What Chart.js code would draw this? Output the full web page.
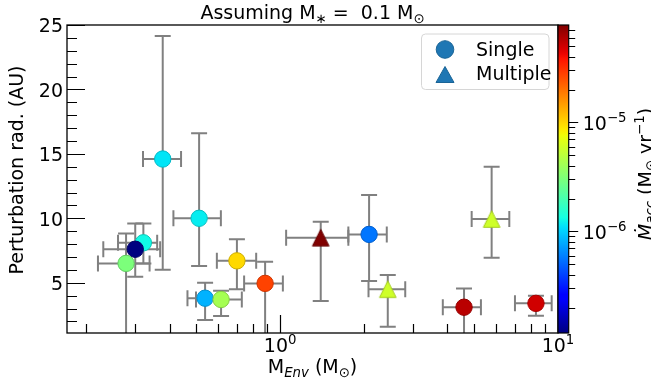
<!DOCTYPE html>
<html>
<head>
<meta charset="utf-8">
<script src="https://cdn.jsdelivr.net/npm/chart.js@4/dist/chart.umd.min.js"></script>
<style>
body { margin: 0; background: #fff; }
</style>
</head>
<body>
<canvas id="myChart" width="651" height="381"></canvas>
<script>
"use strict";

// envelope mass (Msun) and its error range
let mEnv   = [0.378, 0.511, 0.322, 0.301, 0.279, 0.537, 0.613, 0.699, 0.883, 1.40, 2.09, 2.44, 5.77, 4.59, 8.33];
let mEnvLo = [0.321, 0.413, 0.261, 0.231, 0.221, 0.464, 0.498, 0.592, 0.742, 1.051, 1.76, 2.08, 4.89, 3.85, 7.00];
let mEnvHi = [0.440, 0.612, 0.361, 0.370, 0.339, 0.610, 0.728, 0.820, 1.023, 1.76, 2.42, 2.82, 6.68, 5.28, 9.49];

// perturbation radius (AU) and its error range
let rad   = [14.6, 10.0, 8.1, 7.6, 6.5, 3.8, 3.7, 6.7, 4.95, 8.5, 8.75, 4.5, 9.95, 3.1, 3.4];
let radLo = [6.0, 6.3, 6.5, 5.47, 0.5, 2.1, 2.42, 4.49, 0.5, 3.58, 5.13, 1.59, 6.94, 0.5, 2.44];
let radHi = [24.15, 16.6, 9.6, 9.6, 8.83, 5.0, 4.38, 8.37, 6.63, 9.73, 11.8, 5.6, 14.0, 4.56, 4.0];

// accretion rate (Msun/yr), sets the marker colour
let mAcc = [1.14e-6, 1.2e-6, 1.3e-6, 1.17e-7, 3.03e-6, 8.2e-7, 4.2e-6, 9.8e-6, 2.77e-5, 7.83e-5, 5.6e-7, 5.8e-6, 5.8e-6, 5.66e-5, 4.97e-5];

// multiple systems get a triangle
let multiple = [false, false, false, false, false, false, false, false, false, true, false, true, true, false, false];

let xMajor = [1, 10];
let xMajorLabels = [["10", "0"], ["10", "1"]];
let yMajor = [5, 10, 15, 20, 25];
let cbMajor = [1e-6, 1e-5];
let cbMajorLabels = [["10", "\u22126"], ["10", "\u22125"]];
let legendLabels = ["Single", "Multiple"];

let X_MIN = 0.171, X_MAX = 10;
let Y_MIN = 1.1, Y_MAX = 25;
let CB_MIN = 1.17e-7, CB_MAX = 7.83e-5;

let FONT = '"DejaVu Sans"';
let FS = 19;
let CAP = 8;

function lerpTable(t, tab) {
    for (let i = 1; i < tab.length; i++) {
        if (t <= tab[i][0]) {
            let a = tab[i - 1], b = tab[i];
            return a[1] + (b[1] - a[1]) * (t - a[0]) / (b[0] - a[0]);
        }
    }
    return tab[tab.length - 1][1];
}

function jet(t) {
    t = Math.max(0, Math.min(1, t));
    let r = lerpTable(t, [[0, 0], [0.35, 0], [0.66, 1], [0.89, 1], [1, 0.5]]);
    let g = lerpTable(t, [[0, 0], [0.125, 0], [0.375, 1], [0.64, 1], [0.91, 0], [1, 0]]);
    let b = lerpTable(t, [[0, 0.5], [0.11, 1], [0.34, 1], [0.65, 0], [1, 0]]);
    return [r * 255, g * 255, b * 255];
}

function rgb(c, k) {
    k = k || 1;
    return "rgb(" + Math.round(c[0] * k) + "," + Math.round(c[1] * k) + "," + Math.round(c[2] * k) + ")";
}

function accColour(v) {
    let t = (Math.log10(v) - Math.log10(CB_MIN)) / (Math.log10(CB_MAX) - Math.log10(CB_MIN));
    return jet(t);
}

function triangleImage(fill, edge, s) {
    let c = document.createElement("canvas");
    let n = Math.ceil(2 * s + 3);
    c.width = n; c.height = n;
    let g = c.getContext("2d");
    let m = n / 2;
    g.beginPath();
    g.moveTo(m, m - s);
    g.lineTo(m - s, m + s);
    g.lineTo(m + s, m + s);
    g.closePath();
    g.fillStyle = fill;
    g.fill();
    g.strokeStyle = edge;
    g.lineWidth = 1;
    g.stroke();
    return c;
}

// text in pieces: [text, kind], kind is "", "sub", "sup", "it", "itsub"
function partFont(kind, size) {
    let small = kind === "sub" || kind === "sup" || kind === "itsub";
    let italic = kind === "it" || kind === "itsub";
    return (italic ? "italic " : "") + (small ? size * 0.7 : size) + "px " + FONT;
}

function drawParts(ctx, parts, x, y, size, align) {
    let w = 0;
    for (let p of parts) { ctx.font = partFont(p[1] || "", size); w += ctx.measureText(p[0]).width; }
    let cx = align === "center" ? x - w / 2 : (align === "right" ? x - w : x);
    ctx.textAlign = "left";
    ctx.textBaseline = "alphabetic";
    for (let p of parts) {
        let kind = p[1] || "";
        ctx.font = partFont(kind, size);
        let dy = 0;
        if (kind === "sub" || kind === "itsub") dy = size * 0.2;
        if (kind === "sup") dy = -size * 0.42;
        ctx.fillText(p[0], cx, y + dy);
        cx += ctx.measureText(p[0]).width;
    }
}

function drawErrorBars(chart) {
    let ctx = chart.ctx, a = chart.chartArea;
    let xs = chart.scales.x, ys = chart.scales.y;
    ctx.save();
    ctx.beginPath();
    ctx.rect(a.left, a.top, a.right - a.left, a.bottom - a.top);
    ctx.clip();
    ctx.strokeStyle = "#808080";
    ctx.lineWidth = 2;
    for (let i = 0; i < mEnv.length; i++) {
        let px = xs.getPixelForValue(mEnv[i]), py = ys.getPixelForValue(rad[i]);
        let x0 = xs.getPixelForValue(mEnvLo[i]), x1 = xs.getPixelForValue(mEnvHi[i]);
        let y0 = ys.getPixelForValue(radLo[i]), y1 = ys.getPixelForValue(radHi[i]);
        ctx.beginPath();
        ctx.moveTo(x0, py); ctx.lineTo(x1, py);
        ctx.moveTo(px, y0); ctx.lineTo(px, y1);
        ctx.moveTo(x0, py - CAP); ctx.lineTo(x0, py + CAP);
        ctx.moveTo(x1, py - CAP); ctx.lineTo(x1, py + CAP);
        ctx.moveTo(px - CAP, y0); ctx.lineTo(px + CAP, y0);
        ctx.moveTo(px - CAP, y1); ctx.lineTo(px + CAP, y1);
        ctx.stroke();
    }
    ctx.restore();
}

function drawAxes(chart) {
    let ctx = chart.ctx, a = chart.chartArea;
    let xs = chart.scales.x, ys = chart.scales.y;
    ctx.save();
    ctx.strokeStyle = "#000";
    ctx.fillStyle = "#000";

    // inward ticks on x
    ctx.lineWidth = 1.2;
    ctx.beginPath();
    for (let d = 0.1; d < X_MAX; d *= 10) {
        for (let k = 1; k < 10; k++) {
            let v = k * d;
            if (v < X_MIN || v > X_MAX) continue;
            let p = Math.round(xs.getPixelForValue(v)) + 0.5;
            let len = k === 1 ? 18 : 9;
            ctx.moveTo(p, a.bottom); ctx.lineTo(p, a.bottom - len);
        }
    }
    // inward ticks on y
    for (let v = Math.ceil(Y_MIN); v <= Y_MAX; v++) {
        let p = Math.round(ys.getPixelForValue(v)) + 0.5;
        let len = v % 5 === 0 ? 18 : 10;
        ctx.moveTo(a.left, p); ctx.lineTo(a.left + len, p);
    }
    ctx.stroke();

    // spines
    ctx.lineWidth = 1.3;
    ctx.strokeRect(a.left, a.top, a.right - a.left, a.bottom - a.top);

    for (let i = 0; i < xMajor.length; i++) {
        let p = xs.getPixelForValue(xMajor[i]);
        drawParts(ctx, [[xMajorLabels[i][0]], [xMajorLabels[i][1], "sup"]], p, a.bottom + 18.5, FS, "center");
    }
    for (let v of yMajor) {
        let p = ys.getPixelForValue(v);
        drawParts(ctx, [[String(v)]], a.left - 4, p + 7.3, FS, "right");
    }

    // axis titles
    drawParts(ctx, [["M"], ["Env", "itsub"], [" (M"], ["\u2299", "sub"], [")"]], (a.left + a.right) / 2, 373, FS, "center");
    ctx.save();
    ctx.translate(23, 170);
    ctx.rotate(-Math.PI / 2);
    drawParts(ctx, [["Perturbation rad. (AU)"]], 0, 0, FS, "center");
    ctx.restore();

    drawParts(ctx, [["Assuming M"], ["\u2217", "sub"], [" =  0.1 M"], ["\u2299", "sub"]], (a.left + a.right) / 2, 19, FS, "center");
    ctx.restore();
}

function drawColorbar(chart) {
    let ctx = chart.ctx, a = chart.chartArea;
    let cb = chart.scales.cb;
    let top = cb.getPixelForValue(CB_MAX), bottom = cb.getPixelForValue(CB_MIN);
    let left = a.right, right = a.right + 10.7;
    ctx.save();
    let grad = ctx.createLinearGradient(0, bottom, 0, top);
    for (let i = 0; i <= 64; i++) grad.addColorStop(i / 64, rgb(jet(i / 64)));
    ctx.fillStyle = grad;
    ctx.fillRect(left, top, right - left, bottom - top);
    ctx.strokeStyle = "#000";
    ctx.lineWidth = 1.2;
    ctx.strokeRect(left, top, right - left, bottom - top);

    ctx.beginPath();
    for (let d = 1e-7; d < CB_MAX; d *= 10) {
        for (let k = 1; k < 10; k++) {
            let v = k * d;
            if (v < CB_MIN || v > CB_MAX) continue;
            let p = Math.round(cb.getPixelForValue(v)) + 0.5;
            ctx.moveTo(right, p); ctx.lineTo(right + (k === 1 ? 9.5 : 6.5), p);
        }
    }
    ctx.stroke();

    ctx.fillStyle = "#000";
    for (let i = 0; i < cbMajor.length; i++) {
        let p = cb.getPixelForValue(cbMajor[i]);
        drawParts(ctx, [[cbMajorLabels[i][0]], [cbMajorLabels[i][1], "sup"]], right + 14, p + 7.3, FS, "left");
    }
    // label runs against the right edge of the figure
    ctx.translate(651.5, (top + bottom) / 2 - 5);
    ctx.rotate(-Math.PI / 2);
    drawParts(ctx, [["\u1E40", "it"], ["acc", "itsub"], [" (M"], ["\u2299", "sub"], [" yr"], ["\u22121", "sup"], [")"]], 0, 0, FS, "center");
    ctx.restore();
}

function drawLegend(chart) {
    let ctx = chart.ctx, a = chart.chartArea;
    let x0 = a.right - 136.5, y0 = a.top + 9, w = 127.5, h = 55.5, r = 4;
    ctx.save();
    ctx.beginPath();
    ctx.moveTo(x0 + r, y0);
    ctx.arcTo(x0 + w, y0, x0 + w, y0 + h, r);
    ctx.arcTo(x0 + w, y0 + h, x0, y0 + h, r);
    ctx.arcTo(x0, y0 + h, x0, y0, r);
    ctx.arcTo(x0, y0, x0 + w, y0, r);
    ctx.closePath();
    ctx.fillStyle = "rgba(255,255,255,0.8)";
    ctx.fill();
    ctx.strokeStyle = "#d6d6d6";
    ctx.lineWidth = 1;
    ctx.stroke();

    let mx = x0 + 23.5;
    ctx.fillStyle = "#1f77b4";
    ctx.strokeStyle = "#1a6496";
    ctx.beginPath();
    ctx.arc(mx, y0 + 15.5, 8.8, 0, Math.PI * 2);
    ctx.fill(); ctx.stroke();
    ctx.beginPath();
    ctx.moveTo(mx, y0 + 32.5);
    ctx.lineTo(mx - 9, y0 + 48.5);
    ctx.lineTo(mx + 9, y0 + 48.5);
    ctx.closePath();
    ctx.fill(); ctx.stroke();

    ctx.fillStyle = "#000";
    drawParts(ctx, [[legendLabels[0]]], x0 + 54.5, y0 + 21.5, FS, "left");
    drawParts(ctx, [[legendLabels[1]]], x0 + 54.5, y0 + 45.5, FS, "left");
    ctx.restore();
}

let fills = [], edges = [], styles = [];
for (let i = 0; i < mAcc.length; i++) {
    let c = accColour(mAcc[i]);
    fills.push(rgb(c));
    edges.push(rgb(c, 0.8));
    styles.push(multiple[i] ? triangleImage(rgb(c), rgb(c, 0.8), 8.3) : "circle");
}

let decorPlugin = {
    id: "decor",
    beforeDatasetsDraw: function (chart) { drawErrorBars(chart); },
    afterDraw: function (chart) {
        drawAxes(chart);
        drawColorbar(chart);
        drawLegend(chart);
    }
};

let newChart = new Chart(document.getElementById("myChart"), {
    type: "scatter",
    data: {
        datasets: [{
            data: mEnv.map(function (x, i) { return { x: x, y: rad[i] }; }),
            pointStyle: styles,
            pointRadius: 8.2,
            pointBackgroundColor: fills,
            pointBorderColor: edges,
            pointBorderWidth: 1,
            clip: false
        }]
    },
    options: {
        responsive: false,
        animation: false,
        events: [],
        layout: { padding: { left: 67, right: 93, top: 25, bottom: 48 } },
        plugins: { legend: { display: false }, tooltip: { enabled: false }, title: { display: false } },
        scales: {
            x: { type: "logarithmic", min: X_MIN, max: X_MAX, bounds: "data", display: false },
            y: { type: "linear", min: Y_MIN, max: Y_MAX, display: false },
            cb: { type: "logarithmic", axis: "y", position: "right", min: CB_MIN, max: CB_MAX, bounds: "data", display: false }
        }
    },
    plugins: [decorPlugin]
});
</script>
</body>
</html>
